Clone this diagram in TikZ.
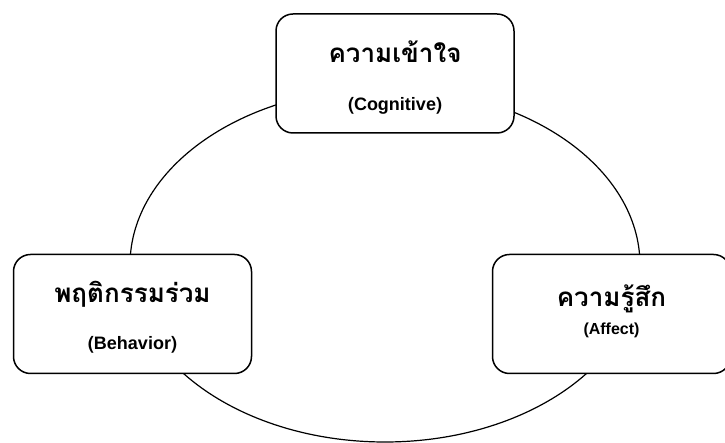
\documentclass[tikz,border=0pt]{standalone}
\usepackage{fontspec}
\setmainfont{Liberation Sans}
\newfontfamily\thaifont[Script=Thai]{Loma}
\usepackage{tikz}

\tikzset{
  part/.style={draw, line width=1.5pt, rounded corners=17pt, fill=white,
    minimum width=238pt, minimum height=119pt},
  thaitext/.style={anchor=base, font=\fontsize{26}{29}\selectfont\thaifont\bfseries},
  engtext/.style={anchor=base, font=\fontsize{18}{20}\selectfont\bfseries}
}

\begin{document}
\begin{tikzpicture}[x=1pt,y=1pt]
\useasboundingbox (0,0) rectangle (725,443);
\draw[line width=1.2pt] (385,178) ellipse (255 and 177);
% the three parts
\node[part] (cog) at (395,369.5) {};
\node[part] (beh) at (132.5,129) {};
\node[part] (aff) at (611.5,129) {};
\node[thaitext] (cogth) at (395,380) {ความเข้าใจ};
\node[engtext] (cogen) at (395,332) {{\thaifont(}Cognitive{\thaifont)}};
\node[thaitext] (behth) at (132.5,140) {พฤติกรรมร่วม};
\node[engtext] (behen) at (132.5,93) {{\thaifont(}Behavior{\thaifont)}};
\node[thaitext] (affth) at (611.5,136) {ความรู้สึก};
\node[engtext, font=\fontsize{16}{18}\selectfont\bfseries] (affen) at (611.5,108) {(Affect)};
\end{tikzpicture}
\end{document}
